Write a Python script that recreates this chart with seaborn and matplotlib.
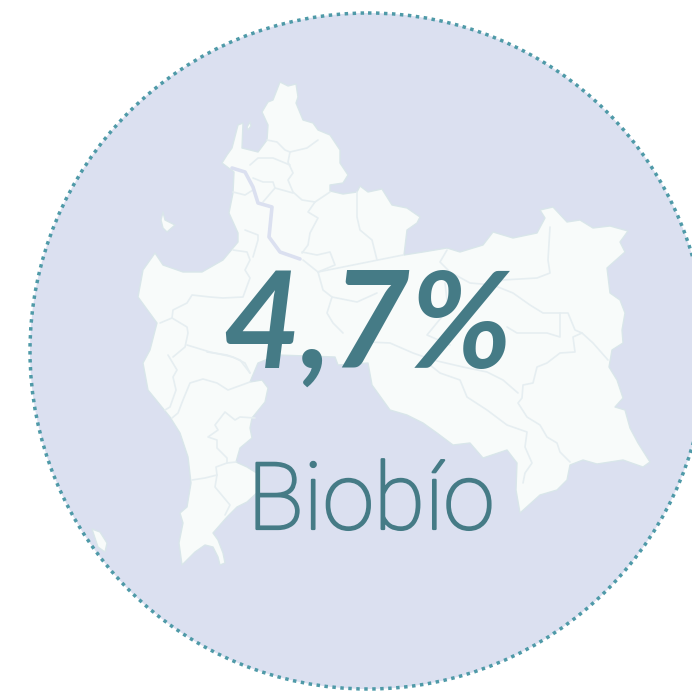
import pandas as pd
import matplotlib.pyplot as plt
import matplotlib.patheffects as pe
from matplotlib.patches import Circle
import seaborn as sns

# Region outline and commune borders
region_outline = [(280,82),(288,86),(296,84),(298,97),(296,103),(303,120),(313,123),(318,130),(330,135),(340,150),(340,163),
    (348,175),(343,183),(330,185),(330,191),(343,194),(357,192),(360,186),(368,192),(382,189),(392,205),(407,208),
    (420,217),(417,223),(407,230),(404,255),(423,252),(447,248),(460,252),(483,245),(493,232),(513,238),(537,233),
    (545,218),(540,210),(553,207),(567,222),(580,220),(593,228),(610,226),(628,231),(620,242),(625,252),(607,268),
    (610,293),(620,300),(625,313),(622,330),(623,343),(612,350),(609,367),(617,380),(623,398),(615,407),(625,410),
    (630,428),(638,443),(650,462),(643,467),(623,460),(597,464),(583,460),(570,465),(567,480),(557,490),(540,495),
    (520,513),(516,490),(517,463),(507,450),(483,458),(470,443),(453,445),(437,433),(423,423),(407,415),(390,410),
    (372,385),(368,363),(338,365),(335,357),(278,355),(258,363),(250,382),(262,380),(268,388),(265,402),(252,418),
    (250,428),(252,438),(240,448),(236,462),(247,467),(260,475),(260,490),(247,502),(237,507),(227,517),(213,533),
    (218,540),(223,553),(225,563),(220,565),(218,557),(213,547),(205,545),(195,552),(182,565),(179,543),(183,523),
    (180,513),(187,507),(191,483),(188,457),(180,433),(170,417),(148,390),(143,363),(150,350),(157,323),(138,297),
    (143,270),(155,253),(163,265),(183,272),(202,272),(223,260),(238,242),(238,233),(229,213),(233,193),(234,172),
    (222,163),(227,155),(232,148),(238,125),(243,123),(242,148),(258,152),(267,140),(268,125),(262,112),(268,102),(273,100)]
island_santa_maria = [(163,212),(165,220),(175,225),(167,232),(163,228),(161,220)]
island_sliver = [(250,122),(251,126),(248,130),(247,127)]
island_mocha = [(92,529),(100,532),(107,543),(105,552),(98,547)]
river_biobio = [(232,168),(245,172),(253,187),(258,203),(272,207),(269,237),(280,252),(300,259)]

borders = [
    [(267,140),(277,142),(285,150),(290,152),(307,148),(318,140)],
    [(290,152),(288,162),(293,173),(288,180),(293,192),(302,200),(315,202),(330,192)],
    [(250,165),(258,158),(273,158),(290,165)],
    [(253,178),(263,182),(273,182),(275,188),(293,193)],
    [(275,188),(263,202)],
    [(315,202),(308,212),(318,218),(310,233),(308,245),(302,253)],
    [(357,192),(357,217),(360,230),(372,240),(377,260)],
    [(302,252),(317,255),(330,252),(335,265),(318,272)],
    [(318,272),(363,263),(403,255)],
    [(303,260),(318,272),(323,290),(332,297),(327,313),(333,323),(343,333)],
    [(332,297),(357,302),(377,293)],
    [(233,250),(247,252),(250,260),(245,270),(250,278),(243,297),(223,298),(210,297),(192,295),(187,303),(173,310),(172,318),(160,323)],
    [(172,318),(187,327),(188,333),(185,347),(173,357)],
    [(187,345),(210,352),(233,357),(245,363),(250,373)],
    [(245,230),(258,235),(258,240),(253,257)],
    [(233,192),(245,195),(253,190)],
    [(168,355),(177,370),(173,377),(176,390),(170,407),(165,410)],
    [(250,373),(240,360),(227,355),(207,352)],
    [(250,382),(228,390),(217,383),(203,379),(190,383),(183,400),(178,413),(172,418)],
    [(255,418),(240,417),(235,420),(225,412),(215,425),(218,430),(208,437),(217,440),(217,448),(227,458),(227,463),(216,467),(217,475),(205,478),(192,480)],
    [(217,475),(215,487),(230,505),(225,515)],
    [(236,462),(227,463)],
    [(550,227),(548,260),(550,273),(537,278),(503,280),(493,285),(513,293),(530,305),(543,313),(560,313),(568,313),(575,330),(582,333),(593,343),(608,360)],
    [(560,313),(560,337),(547,333),(517,333),(507,327)],
    [(582,333),(573,337),(575,352),(560,353),(547,363),(537,367),(533,383),(523,385),(522,398),(518,403),(527,417),(540,425),(547,437),(557,443),(560,452),(570,462)],
    [(368,342),(390,343),(413,353),(433,360),(463,367),(487,372),(503,380),(518,393)],
    [(430,365),(440,373),(460,380),(467,397),(487,410),(507,425),(527,432),(525,447),(532,463),(525,473),(523,483)],
    [(447,250),(440,262),(450,272),(470,283),(493,285)],
    [(445,283),(447,300),(445,313),(427,335),(450,345)],
]

rate_label = '4,7%'
region_label = 'Biobío'

ink = '#457b86'
land = '#f8fbfa'
line_color = '#e6eef1'
disc = '#dbe0f0'

sns.set_theme(style='white')
plt.rcParams['font.family'] = ['Lato', 'DejaVu Sans']

fig, ax = plt.subplots(figsize=(6.92, 6.91), dpi=100)
ax.set_position([0, 0, 1, 1])
ax.set_xlim(0, 692)
ax.set_ylim(691, 0)
ax.axis('off')

# Disc with the dotted ring
ax.add_patch(Circle((368, 351), 338, facecolor=disc, edgecolor='none', zorder=1))
ax.add_patch(Circle((368, 351), 338, facecolor='none', edgecolor='#4f9aa8', lw=2.5, linestyle=(0, (1, 1.3)), zorder=2))

# Land
for shape in [region_outline, island_santa_maria, island_sliver, island_mocha]:
    xs, ys = zip(*shape)
    ax.fill(xs, ys, facecolor=land, edgecolor='#d9e6ea', lw=1.0, joinstyle='round', zorder=3)

# Commune borders
rows = []
for i, path in enumerate(borders):
    for order, (x, y) in enumerate(path):
        rows.append({'border': i, 'order': order, 'x': x, 'y': y})
border_df = pd.DataFrame(rows)
sns.lineplot(data=border_df, x='x', y='y', units='border', estimator=None, sort=False,
             color=line_color, lw=1.2, ax=ax, zorder=4)

# River
river_df = pd.DataFrame(river_biobio, columns=['x', 'y'])
sns.lineplot(data=river_df, x='x', y='y', estimator=None, sort=False, color=disc, lw=2.6, ax=ax, zorder=4)

ax.set_xlim(0, 692)
ax.set_ylim(691, 0)

ax.text(367, 368, rate_label, color=ink, fontsize=97, fontweight='bold', style='italic',
        ha='center', va='baseline', zorder=5)
name = ax.text(371, 529, region_label, color=ink, fontsize=67, fontweight='light', family=['Roboto', 'DejaVu Sans'],
               ha='center', va='baseline', zorder=5)
name.set_path_effects([pe.withStroke(linewidth=1.6, foreground=ink)])

plt.savefig('out.png', dpi=100)
